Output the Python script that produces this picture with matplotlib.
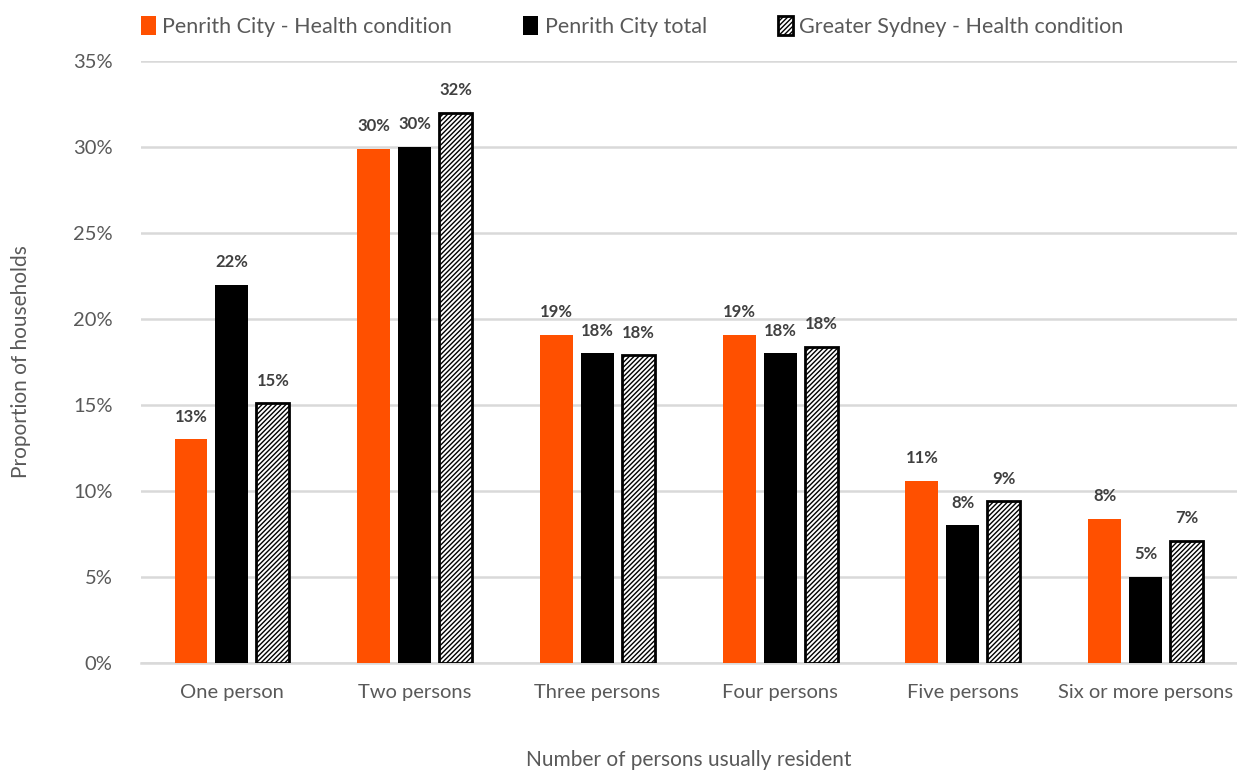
import matplotlib.pyplot as plt
import matplotlib as mpl
import numpy as np

categories = ['One person', 'Two persons', 'Three persons', 'Four persons',
              'Five persons', 'Six or more persons']
penrith_health = [13.0, 29.9, 19.1, 19.1, 10.6, 8.4]
penrith_total = [22.0, 30.0, 18.0, 18.0, 8.0, 5.0]
sydney_health = [15.1, 32.0, 17.9, 18.4, 9.4, 7.1]
series_names = ['Penrith City - Health condition', 'Penrith City total',
                'Greater Sydney - Health condition']

plt.rcParams['font.family'] = ['Lato', 'DejaVu Sans']
mpl.rcParams['hatch.linewidth'] = 1.0

fig = plt.figure(figsize=(12.37, 7.71), dpi=100)
ax = fig.add_axes([0.1136, 0.140, 0.8864, 0.7808])

x = np.arange(len(categories))
w = 0.18
step = 0.224
orange = '#FF5000'

b1 = ax.bar(x - step, penrith_health, w, color=orange, label=series_names[0], zorder=3)
b2 = ax.bar(x, penrith_total, w, color='black', label=series_names[1], zorder=3)
b3 = ax.bar(x + step, sydney_health, w, color='white', edgecolor='black',
            linewidth=2, hatch='///////', label=series_names[2], zorder=3)

for bars, vals in [(b1, penrith_health), (b2, penrith_total), (b3, sydney_health)]:
    for r, v in zip(bars, vals):
        ax.text(r.get_x() + r.get_width() / 2, v + 0.85, f'{round(v):.0f}%',
                ha='center', va='bottom', fontsize=12, fontweight='bold',
                color='#404040')

ax.set_xlim(-0.5, len(categories) - 0.5)
ax.set_ylim(0, 35)
ax.set_yticks(np.arange(0, 36, 5))
ax.set_yticklabels([f'{t}%' for t in range(0, 36, 5)])
ax.set_xticks(x)
ax.set_xticklabels(categories)
ax.tick_params(length=0, labelsize=14.5, labelcolor='#595959')
ax.tick_params(axis='x', pad=15)
ax.tick_params(axis='y', pad=20)
ax.grid(axis='y', color='#d9d9d9', linewidth=1.8, zorder=0)
for s in ['top', 'right', 'left']:
    ax.spines[s].set_visible(False)
ax.spines['bottom'].set_color('#d9d9d9')
ax.spines['bottom'].set_linewidth(1.8)

ax.set_xlabel('Number of persons usually resident', fontsize=15,
              color='#595959')
ax.xaxis.set_label_coords(0.5, -0.145)
ax.set_ylabel('Proportion of households', fontsize=15, color='#595959')
ax.yaxis.set_label_coords(-0.1, 0.5)

fig.legend(handles=[b1, b2, b3], loc='upper left', bbox_to_anchor=(0.098, 1.005),
           ncol=3, frameon=False, fontsize=15.5, handlelength=0.7,
           handleheight=1.0, handletextpad=0.3, columnspacing=3.3,
           labelcolor='#595959')

fig.savefig('out.png', dpi=100)
